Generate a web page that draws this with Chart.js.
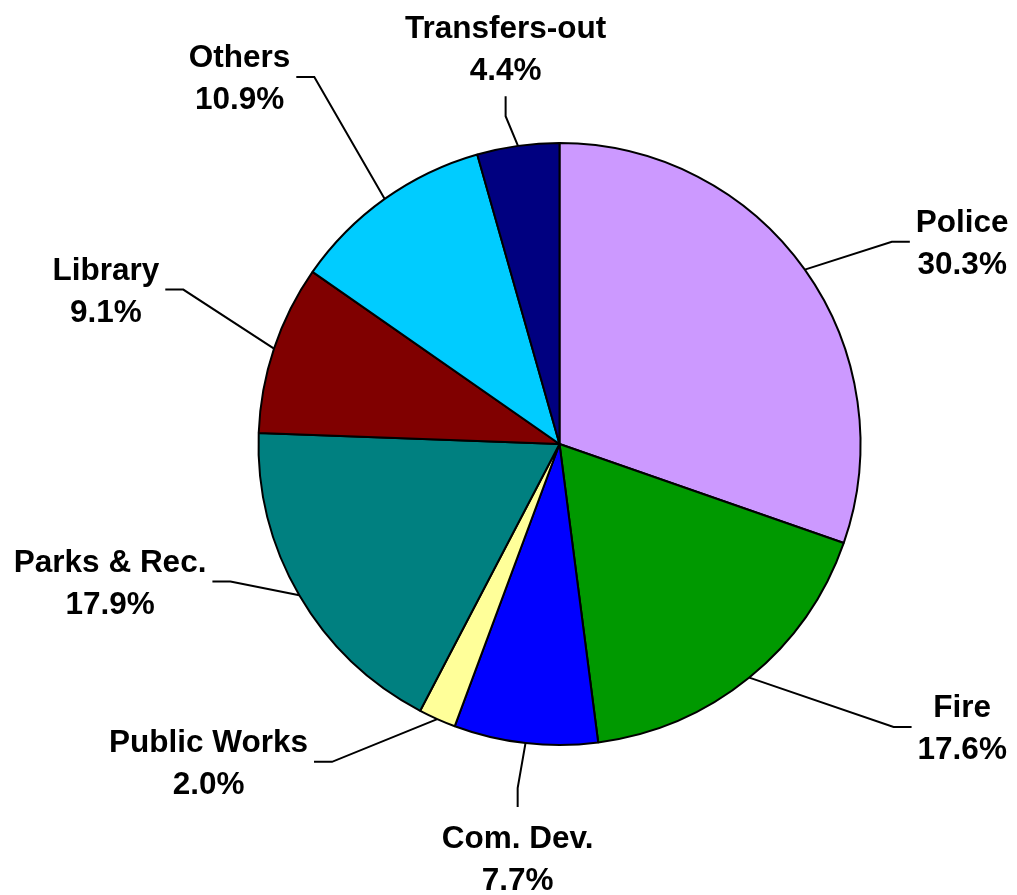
<!DOCTYPE html>
<html>
<head>
<meta charset="utf-8">
<script src="https://cdn.jsdelivr.net/npm/chart.js@4"></script>
<style>
  html, body { margin: 0; padding: 0; background: #fff; }
  #wrap { width: 1017px; height: 895px; position: relative; }
</style>
</head>
<body>
<div id="wrap"><canvas id="pieChart"></canvas></div>
<script>
// dados do gráfico
const categories = ['Police', 'Fire', 'Com. Dev.', 'Public Works', 'Parks & Rec.', 'Library', 'Others', 'Transfers-out'];
const shares = [30.3, 17.6, 7.7, 2.0, 17.9, 9.1, 10.9, 4.4];
const sliceColors = ['#CC99FF', '#009900', '#0000FF', '#FFFF99', '#008080', '#800000', '#00CCFF', '#000080'];

// posição dos rótulos (centro do bloco de texto, em raios a partir do centro) e lado do conector
const labelSpots = [
    [1.338, -0.672, 'right'],
    [1.338, 0.940, 'right'],
    [-0.139, 1.374, 'below'],
    [-1.166, 1.056, 'left'],
    [-1.493, 0.457, 'left'],
    [-1.507, -0.513, 'left'],
    [-1.063, -1.219, 'left'],
    [-0.179, -1.315, 'above']
];

const FONT = 'bold 31.5px "Liberation Sans", Arial, sans-serif';
const LINE_GAP = 42;

// Plugin para desenhar rótulos e linhas de chamada
const leaderLabels = {
    id: 'leaderLabels',
    afterDraw(chart) {
        const ctx = chart.ctx;
        const arcs = chart.getDatasetMeta(0).data;
        ctx.save();
        ctx.font = FONT;
        ctx.fillStyle = '#000';
        ctx.strokeStyle = '#000';
        ctx.lineWidth = 2;
        ctx.textAlign = 'center';
        ctx.textBaseline = 'alphabetic';
        arcs.forEach((arc, i) => {
            const p = arc.getProps(['x', 'y', 'startAngle', 'endAngle', 'outerRadius'], true);
            const mid = (p.startAngle + p.endAngle) / 2;
            const R = p.outerRadius;
            const ax = p.x + Math.cos(mid) * R;
            const ay = p.y + Math.sin(mid) * R;
            const spot = labelSpots[i];
            const cx = p.x + spot[0] * R;
            const cy = p.y + spot[1] * R;
            const line1 = categories[i];
            const line2 = shares[i].toFixed(1) + '%';
            const w = Math.max(ctx.measureText(line1).width, ctx.measureText(line2).width);
            const base1 = cy - 10;
            const base2 = base1 + LINE_GAP;
            ctx.fillText(line1, cx, base1);
            ctx.fillText(line2, cx, base2);

            let ex, ey, bx, by;
            if (spot[2] === 'right') {
                ex = cx - w / 2 - 6; ey = cy; bx = ex - 18; by = cy;
            } else if (spot[2] === 'left') {
                ex = cx + w / 2 + 6; ey = cy; bx = ex + 18; by = cy;
            } else if (spot[2] === 'below') {
                ex = cx; ey = base1 - 22.5 - 18; bx = cx; by = ey - 19;
            } else {
                ex = cx; ey = base2 + 16; bx = cx; by = ey + 20;
            }
            ctx.beginPath();
            ctx.moveTo(ax, ay);
            ctx.lineTo(bx, by);
            ctx.lineTo(ex, ey);
            ctx.stroke();
        });
        ctx.restore();
    }
};

const ctx = document.getElementById('pieChart').getContext('2d');
new Chart(ctx, {
    type: 'pie',
    data: {
        labels: categories,
        datasets: [{
            data: shares,
            backgroundColor: sliceColors,
            borderColor: '#000',
            borderWidth: 2
        }]
    },
    options: {
        responsive: true,
        maintainAspectRatio: false,
        animation: false,
        layout: {
            padding: { left: 257, right: 155, top: 142, bottom: 149 }
        },
        plugins: {
            legend: { display: false },
            tooltip: { enabled: false }
        }
    },
    plugins: [leaderLabels]
});
</script>
</body>
</html>
